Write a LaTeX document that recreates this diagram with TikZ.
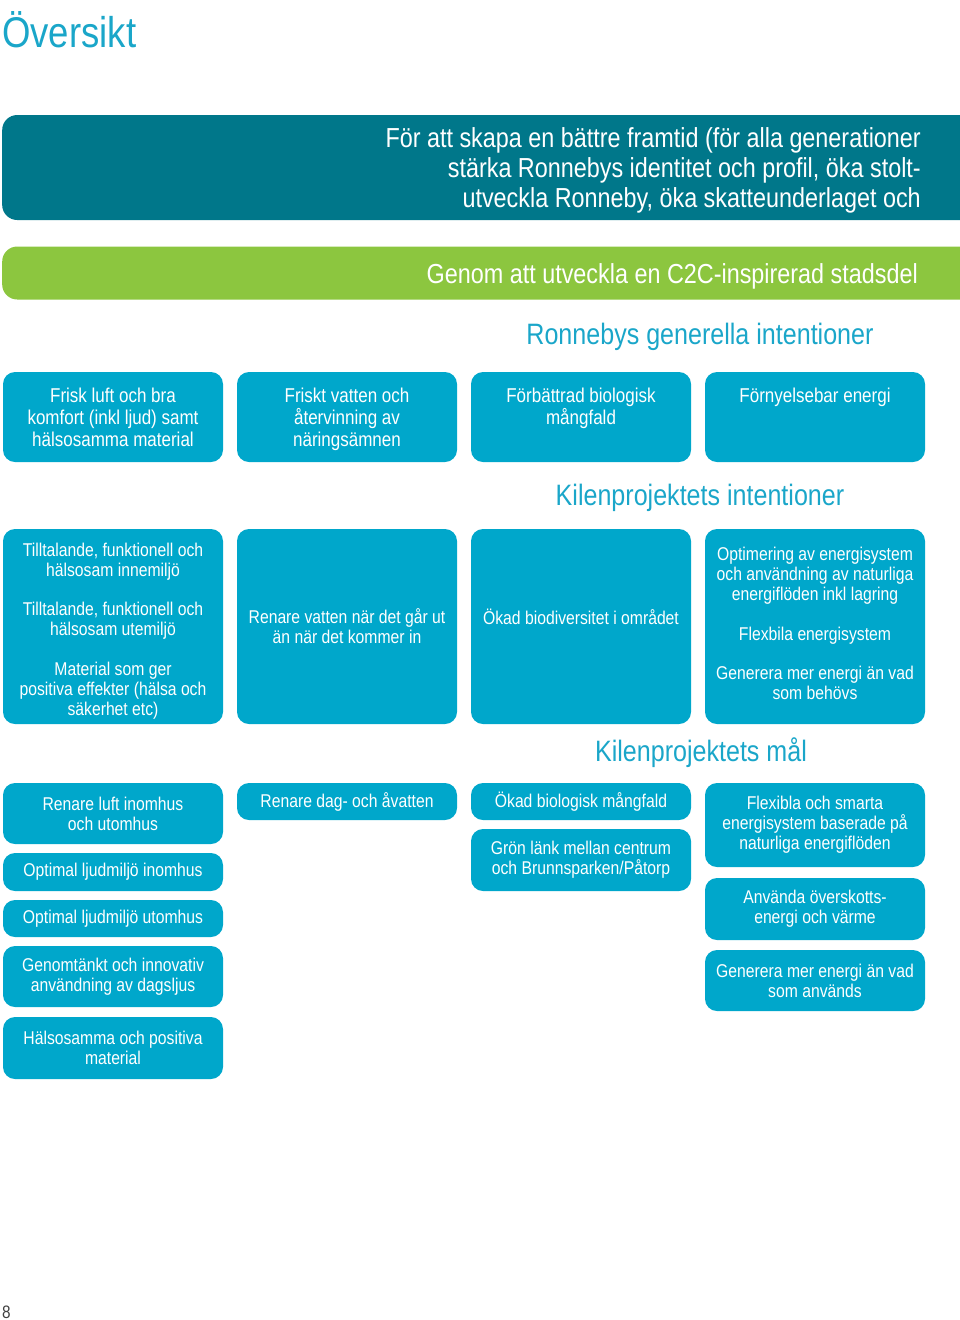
\documentclass[tikz,border=0pt]{standalone}
\usepackage{fontspec}
\setmainfont{Liberation Sans}[FakeStretch=0.85]
\usepackage{tikz}
\usetikzlibrary{positioning}
\definecolor{boxblue}{HTML}{00A7CB}
\definecolor{headblue}{HTML}{1AA6C9}
\definecolor{aimteal}{HTML}{00778A}
\definecolor{c2cgreen}{HTML}{8CC63F}

\begin{document}
\begin{tikzpicture}[x=1pt, y=-1pt,
    goalbox/.style={fill=boxblue, rounded corners=12pt, minimum width=220pt, inner sep=0pt, text=white, align=center, font=\fontsize{18.5}{20}\selectfont},
    boxtxt/.style={inner sep=0pt, text=white, align=center},
    heading/.style={inner sep=0pt, text=headblue, font=\fontsize{29.5}{32}\selectfont},
    bar/.style={rounded corners=15pt, minimum width=1000pt, inner sep=0pt, anchor=west},
    bartxt/.style={inner sep=0pt, text=white, align=right, anchor=east, font=\fontsize{27.5}{30}\selectfont},
]
\useasboundingbox (0,0) rectangle (960,1320);

% Title
\node[anchor=base west, inner sep=0pt, text=headblue, font=\fontsize{43}{46}\selectfont] (title) at (2,47) {Översikt};

% Aim and C2C bars
\node[bar, fill=aimteal, minimum height=105pt] (aim) at (2,167.5) {};
\node[bartxt] (aimtxt) at (921,170) {För att skapa en bättre framtid (för alla generationer\\ stärka Ronnebys identitet och profil, öka stolt-\\ utveckla Ronneby, öka skatteunderlaget och};
\node[bar, fill=c2cgreen, minimum height=53pt] (c2c) at (2,273) {};
\node[bartxt] (c2ctxt) at (918,276) {Genom att utveckla en C2C-inspirerad stadsdel};

% Ronnebys generella intentioner
\node[heading] (genhead) at (700,337) {Ronnebys generella intentioner};
\foreach \i/\txt in {1/{Frisk luft och bra\\komfort (inkl ljud) samt\\hälsosamma material},
                     2/{Friskt vatten och\\återvinning av\\näringsämnen},
                     3/{Förbättrad biologisk\\mångfald},
                     4/{Förnyelsebar energi}} {
    \node[goalbox, minimum height=90pt] (gen\i) at ({113+(\i-1)*234},417) {};
    \node[boxtxt, font=\fontsize{20}{22}\selectfont, below=16pt of gen\i.north] (gentxt\i) {\txt};
}

% Kilenprojektets intentioner
\node[heading] (inthead) at (700,498) {Kilenprojektets intentioner};
\node[goalbox, minimum height=195pt] (int1) at (113,626.5) {};
\node[boxtxt, font=\fontsize{18.5}{20}\selectfont] (inttxt1) at (113,631) {Tilltalande, funktionell och\\ hälsosam innemiljö\\[19.5pt] Tilltalande, funktionell och\\ hälsosam utemiljö\\[19.5pt] Material som ger\\ positiva effekter (hälsa och\\ säkerhet etc)};
\node[goalbox, minimum height=195pt] (int2) at (347,626.5) {Renare vatten när det går ut\\ än när det kommer in};
\node[goalbox, minimum height=195pt] (int3) at (581,626.5) {Ökad biodiversitet i området\\ \mbox{}};
\node[goalbox, minimum height=195pt] (int4) at (815,626.5) {};
\node[boxtxt, font=\fontsize{18.5}{20}\selectfont] (inttxt4) at (815,623) {Optimering av energisystem\\ och användning av naturliga\\ energiflöden inkl lagring\\[20pt] Flexbila energisystem\\[19pt] Generera mer energi än vad\\ som behövs};

% Kilenprojektets mål
\node[heading] (malhead) at (701,753) {Kilenprojektets mål};
\node[goalbox, minimum height=61pt] (mal11) at (113,813.5) {Renare luft inomhus\\ och utomhus};
\node[goalbox, minimum height=38pt] (mal12) at (113,872) {Optimal ljudmiljö inomhus};
\node[goalbox, minimum height=37pt] (mal13) at (113,918.5) {Optimal ljudmiljö utomhus};
\node[goalbox, minimum height=61pt] (mal14) at (113,976.5) {Genomtänkt och innovativ\\ användning av dagsljus};
\node[goalbox, minimum height=62pt] (mal15) at (113,1048) {Hälsosamma och positiva\\ material};

\node[goalbox, minimum height=37pt] (mal21) at (347,801.5) {Renare dag- och åvatten};

\node[goalbox, minimum height=37pt] (mal31) at (581,801.5) {Ökad biologisk mångfald};
\node[goalbox, minimum height=62pt] (mal32) at (581,860) {Grön länk mellan centrum\\ och Brunnsparken/Påtorp};

\node[goalbox, minimum height=84pt] (mal41) at (815,825) {Flexibla och smarta\\ energisystem baserade på\\ naturliga energiflöden};
\node[goalbox, minimum height=62pt] (mal42) at (815,909) {Använda överskotts-\\ energi och värme};
\node[goalbox, minimum height=61pt] (mal43) at (815,980.5) {Generera mer energi än vad\\ som används};

% Page number
\node[anchor=base west, inner sep=0pt, text=black!75, font=\fontsize{18}{20}\selectfont] (pagenr) at (2,1318) {8};

\end{tikzpicture}
\end{document}
